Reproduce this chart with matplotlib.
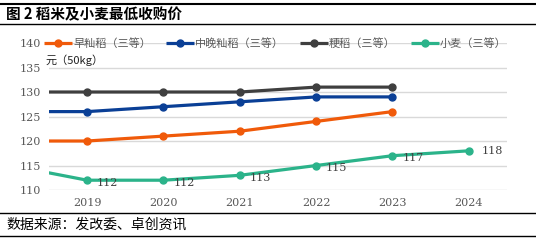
import matplotlib.pyplot as plt
from matplotlib.lines import Line2D

plt.rcParams['font.family'] = ['Noto Sans CJK SC', 'DejaVu Sans']

# data (2018 sits just off the left edge, so the lines run in from the border)
years = [2018, 2019, 2020, 2021, 2022, 2023, 2024]
early_indica = [120, 120, 121, 122, 124, 126, None]
mid_late_indica = [126, 126, 127, 128, 129, 129, None]
japonica = [130, 130, 130, 130, 131, 131, None]
wheat = [115, 112, 112, 113, 115, 117, 118]

series_names = ['早籼稻（三等）', '中晚籼稻（三等）', '粳稻（三等）', '小麦（三等）']
series_vals = [early_indica, mid_late_indica, japonica, wheat]
colors = ['#F05A0A', '#0A3F96', '#3F3F3F', '#2BB38A']

fig = plt.figure(figsize=(5.36, 2.4), dpi=100)
ax = fig.add_axes([0.0914, 0.2083, 0.8545, 0.6125])

for name, vals, c in zip(series_names, series_vals, colors):
    xs = [y for y, v in zip(years, vals) if v is not None]
    vs = [v for v in vals if v is not None]
    ax.plot(xs, vs, color=c, lw=2.3, marker='o', markersize=5, label=name,
            solid_capstyle='butt')

# labels on wheat
for y, v in zip(years[1:], wheat[1:]):
    if y == 2024:
        ax.annotate(str(v), (y, v), xytext=(9, 0), textcoords='offset points',
                    ha='left', va='center', fontsize=8, color='#404040',
                    family='DejaVu Serif')
    else:
        ax.annotate(str(v), (y, v), xytext=(7, -2), textcoords='offset points',
                    ha='left', va='center', fontsize=8, color='#404040',
                    family='DejaVu Serif')

ax.set_xlim(2018.5, 2024.5)
ax.set_ylim(110, 140)
ax.set_yticks(range(110, 141, 5))
ax.set_xticks(years[1:])
ax.grid(axis='y', color='#D9D9D9', lw=1)
ax.set_axisbelow(True)
for s in ax.spines.values():
    s.set_visible(False)
ax.tick_params(length=0, labelsize=8, labelcolor='#595959', pad=6)
for lab in ax.get_xticklabels() + ax.get_yticklabels():
    lab.set_family('DejaVu Serif')

ax.legend(loc='center left', bbox_to_anchor=(0.072, 0.82), bbox_transform=fig.transFigure,
          ncol=4, frameon=False, fontsize=8, labelcolor='#595959',
          handlelength=2.5, handletextpad=0.1, columnspacing=1.4, borderpad=0)

fig.text(0.085, 0.75, '元（50kg）', fontsize=8, color='#222222', va='center')

# header / footer rules
fig.add_artist(Line2D([0.0, 1.0], [0.985, 0.985], color='black', lw=1.5))
fig.add_artist(Line2D([0.0, 1.0], [0.9, 0.9], color='black', lw=1))
fig.text(0.012, 0.942, '图 2 稻米及小麦最低收购价', fontsize=10.5, fontweight='bold',
         color='black', va='center')
fig.add_artist(Line2D([0.0, 1.0], [0.112, 0.112], color='black', lw=1))
fig.add_artist(Line2D([0.0, 1.0], [0.017, 0.017], color='black', lw=1))
fig.text(0.012, 0.062, '数据来源：发改委、卓创资讯', fontsize=10, color='black', va='center')

fig.savefig('out.png', dpi=100)
